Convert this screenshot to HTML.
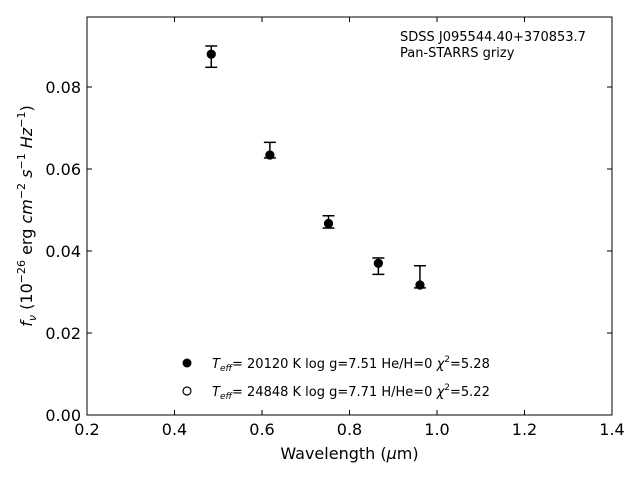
<!DOCTYPE html>
<html><head><meta charset="utf-8"><style>
body{margin:0;background:#fff}
svg{display:block;font-family:"DejaVu Sans","Liberation Sans",sans-serif}
</style></head><body>
<svg id="chart" width="640" height="480" viewBox="0 0 640 480">
<rect x="0" y="0" width="640" height="480" fill="#fff"/>
<g id="marks"></g>
<rect x="87" y="17" width="525" height="398" fill="none" stroke="#000" stroke-width="1"/>
<g id="ticks"></g>
<text x="349.5" y="459" font-size="16" text-anchor="middle">Wavelength (<tspan font-style="italic">μ</tspan>m)</text>
<text transform="translate(32,216) rotate(-90)" font-size="16" text-anchor="middle"><tspan font-style="italic">f<tspan font-size="11" dy="4">ν</tspan></tspan><tspan dy="-4"> (10</tspan><tspan font-size="11" dy="-7">−26</tspan><tspan dy="7"> erg </tspan><tspan font-style="italic">cm</tspan><tspan font-size="11" dy="-7">−2</tspan><tspan dy="7"> </tspan><tspan font-style="italic">s</tspan><tspan font-size="11" dy="-7">−1</tspan><tspan dy="7"> </tspan><tspan font-style="italic">Hz</tspan><tspan font-size="11" dy="-7">−1</tspan><tspan dy="7">)</tspan></text>
<text x="400" y="41" font-size="13">SDSS J095544.40+370853.7</text>
<text x="400" y="57" font-size="13">Pan-STARRS grizy</text>
<circle cx="187" cy="363" r="4.5" fill="#000"/>
<text x="212" y="368" font-size="13"><tspan font-style="italic">T</tspan><tspan font-style="italic" font-size="9" dy="3">eff</tspan><tspan dy="-3">= 20120 K  log g=7.51  He/H=0  </tspan><tspan font-style="italic">χ</tspan><tspan font-size="9" dy="-6">2</tspan><tspan dy="6">=5.28</tspan></text>
<circle cx="187" cy="391" r="4" fill="#fff" stroke="#000" stroke-width="1.2"/>
<text x="212" y="396" font-size="13"><tspan font-style="italic">T</tspan><tspan font-style="italic" font-size="9" dy="3">eff</tspan><tspan dy="-3">= 24848 K  log g=7.71  H/He=0  </tspan><tspan font-style="italic">χ</tspan><tspan font-size="9" dy="-6">2</tspan><tspan dy="6">=5.22</tspan></text>
</svg>
<script>
const wavelengths = [0.484, 0.618, 0.752, 0.866, 0.961];
const observedFlux = [0.0874, 0.0646, 0.0471, 0.0363, 0.0337];
const observedErr = [0.0026, 0.0019, 0.0015, 0.0020, 0.0027];
const model1Flux = [0.0880, 0.0634, 0.0467, 0.0370, 0.0317];
const model2Flux = [0.0880, 0.0634, 0.0467, 0.0370, 0.0317];
const xTicks = [0.2, 0.4, 0.6, 0.8, 1.0, 1.2, 1.4];
const yTicks = [0.00, 0.02, 0.04, 0.06, 0.08];

const NS = "http://www.w3.org/2000/svg";
const X0 = 87, X1 = 612, Y0 = 415, Y1 = 17;
const xMin = 0.2, xMax = 1.4, yMin = 0, yMax = 0.09707;
const xs = v => X0 + (v - xMin) / (xMax - xMin) * (X1 - X0);
const ys = v => Y0 - (v - yMin) / (yMax - yMin) * (Y0 - Y1);
function mk(tag, attrs, parent) {
  const e = document.createElementNS(NS, tag);
  for (const k in attrs) e.setAttribute(k, attrs[k]);
  parent.appendChild(e);
  return e;
}
const marks = document.getElementById('marks');
const ticks = document.getElementById('ticks');

wavelengths.forEach((w, i) => {
  const cx = xs(w);
  const c2 = mk('circle', {cx: cx, cy: ys(model2Flux[i]), r: 4, fill: '#fff', stroke: '#000', 'stroke-width': 1.2}, marks);
  
  
  const c1 = mk('circle', {cx: cx, cy: ys(model1Flux[i]), r: 4.5, fill: '#000'}, marks);
  
  
  const top = ys(observedFlux[i] + observedErr[i]), bot = ys(observedFlux[i] - observedErr[i]);
  const g = mk('g', {stroke: '#000', 'stroke-width': 1.5}, marks);
  
  
  mk('line', {x1: cx, x2: cx, y1: top, y2: bot}, g);
  mk('line', {x1: cx - 6, x2: cx + 6, y1: top, y2: top}, g);
  mk('line', {x1: cx - 6, x2: cx + 6, y1: bot, y2: bot}, g);
});

xTicks.forEach(t => {
  const x = xs(t);
  const l1 = mk('line', {x1: x, x2: x, y1: Y0, y2: Y0 - 5, stroke: '#000'}, ticks);
  
  
  mk('line', {x1: x, x2: x, y1: Y1, y2: Y1 + 5, stroke: '#000'}, ticks);
  const tx = mk('text', {x: x, y: 435, 'font-size': 16, 'text-anchor': 'middle'}, ticks);
  tx.textContent = t.toFixed(1);
  
  
});
yTicks.forEach(t => {
  const y = ys(t);
  const l1 = mk('line', {x1: X0, x2: X0 + 5, y1: y, y2: y, stroke: '#000'}, ticks);
  
  
  mk('line', {x1: X1, x2: X1 - 5, y1: y, y2: y, stroke: '#000'}, ticks);
  const tx = mk('text', {x: 81, y: y + 6, 'font-size': 16, 'text-anchor': 'end'}, ticks);
  tx.textContent = t.toFixed(2);
  
  
});
</script>
</body></html>
